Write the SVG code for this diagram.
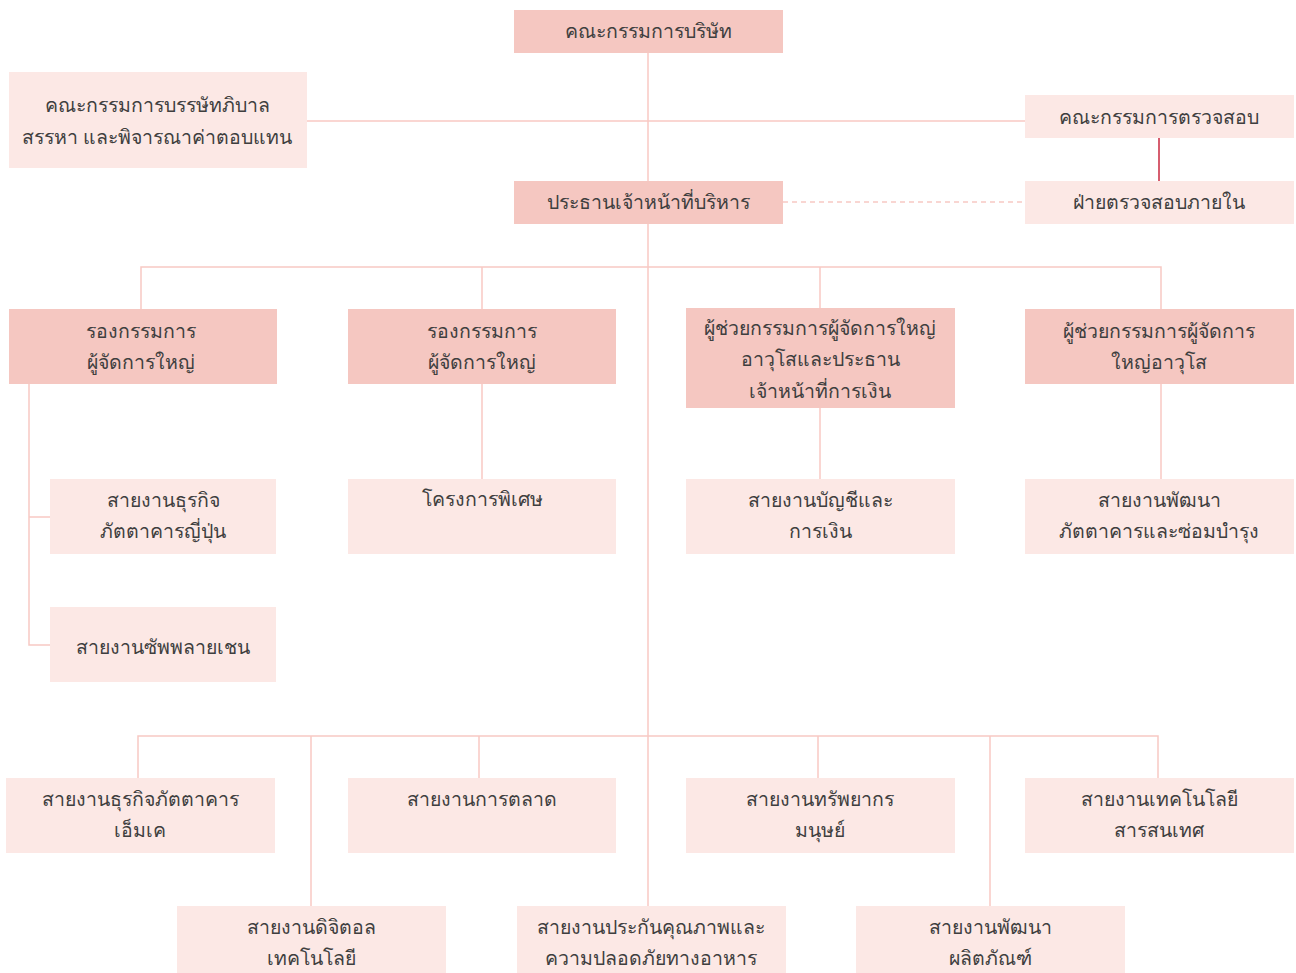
<svg xmlns="http://www.w3.org/2000/svg" width="1296" height="973" viewBox="0 0 1296 973">
<style>
.d{fill:#f5c7c1}
.l{fill:#fce8e5}
text{font-family:"Noto Sans","DejaVu Sans",sans-serif;font-size:19.5px;font-weight:500;fill:#3f3f3f;text-anchor:middle;dominant-baseline:central}
.c{stroke:#f8c9c3;stroke-width:1.5;fill:none}
</style>
<rect width="1296" height="973" fill="#fff"/>
<g id="connectors">
<line class="c" x1="648" y1="53" x2="648" y2="906"/>
<line class="c" x1="307" y1="121" x2="1025" y2="121"/>
<line x1="1159" y1="138" x2="1159" y2="181" stroke="#c9283f" stroke-width="1.5"/>
<line class="c" x1="783" y1="202" x2="1025" y2="202" stroke-dasharray="5,4"/>
<polyline class="c" points="141,309 141,267 1161,267 1161,309"/>
<line class="c" x1="482" y1="267" x2="482" y2="309"/>
<line class="c" x1="820" y1="267" x2="820" y2="308"/>
<polyline class="c" points="29,384 29,645 50,645"/>
<line class="c" x1="29" y1="517" x2="50" y2="517"/>
<line class="c" x1="482" y1="384" x2="482" y2="479"/>
<line class="c" x1="820" y1="408" x2="820" y2="479"/>
<line class="c" x1="1161" y1="384" x2="1161" y2="479"/>
<polyline class="c" points="138,778 138,736 1158,736 1158,778"/>
<line class="c" x1="311" y1="736" x2="311" y2="906"/>
<line class="c" x1="479" y1="736" x2="479" y2="778"/>
<line class="c" x1="818" y1="736" x2="818" y2="778"/>
<line class="c" x1="990" y1="736" x2="990" y2="906"/>
</g>
<g id="board"><rect class="d" x="514" y="10" width="269" height="43"/><text x="648" y="30">คณะกรรมการบริษัท</text></g>
<g id="governance"><rect class="l" x="9" y="72" width="298" height="96"/><text x="157" y="104">คณะกรรมการบรรษัทภิบาล</text><text x="157" y="136">สรรหา และพิจารณาค่าตอบแทน</text></g>
<g id="audit"><rect class="l" x="1025" y="95" width="269" height="43"/><text x="1159" y="116">คณะกรรมการตรวจสอบ</text></g>
<g id="ceo"><rect class="d" x="514" y="181" width="269" height="43"/><text x="648" y="201">ประธานเจ้าหน้าที่บริหาร</text></g>
<g id="internal-audit"><rect class="l" x="1025" y="181" width="269" height="43"/><text x="1159" y="201">ฝ่ายตรวจสอบภายใน</text></g>
<g id="vp1"><rect class="d" x="9" y="309" width="268" height="75"/><text x="141" y="330">รองกรรมการ</text><text x="141" y="361">ผู้จัดการใหญ่</text></g>
<g id="vp2"><rect class="d" x="348" y="309" width="268" height="75"/><text x="482" y="330">รองกรรมการ</text><text x="482" y="361">ผู้จัดการใหญ่</text></g>
<g id="cfo"><rect class="d" x="686" y="308" width="269" height="100"/><text x="820" y="327">ผู้ช่วยกรรมการผู้จัดการใหญ่</text><text x="820" y="358">อาวุโสและประธาน</text><text x="820" y="390">เจ้าหน้าที่การเงิน</text></g>
<g id="avp"><rect class="d" x="1025" y="309" width="269" height="75"/><text x="1159" y="330">ผู้ช่วยกรรมการผู้จัดการ</text><text x="1159" y="361">ใหญ่อาวุโส</text></g>
<g id="jp"><rect class="l" x="50" y="479" width="226" height="75"/><text x="163" y="499">สายงานธุรกิจ</text><text x="163" y="530">ภัตตาคารญี่ปุ่น</text></g>
<g id="supply"><rect class="l" x="50" y="607" width="226" height="75"/><text x="163" y="646">สายงานซัพพลายเชน</text></g>
<g id="special"><rect class="l" x="348" y="479" width="268" height="75"/><text x="482" y="498">โครงการพิเศษ</text></g>
<g id="acct"><rect class="l" x="686" y="479" width="269" height="75"/><text x="820" y="499">สายงานบัญชีและ</text><text x="820" y="530">การเงิน</text></g>
<g id="dev"><rect class="l" x="1025" y="479" width="269" height="75"/><text x="1159" y="499">สายงานพัฒนา</text><text x="1159" y="530">ภัตตาคารและซ่อมบำรุง</text></g>
<g id="mk"><rect class="l" x="6" y="778" width="269" height="75"/><text x="140" y="798">สายงานธุรกิจภัตตาคาร</text><text x="140" y="829">เอ็มเค</text></g>
<g id="marketing"><rect class="l" x="348" y="778" width="268" height="75"/><text x="482" y="798">สายงานการตลาด</text></g>
<g id="hr"><rect class="l" x="686" y="778" width="269" height="75"/><text x="820" y="798">สายงานทรัพยากร</text><text x="820" y="829">มนุษย์</text></g>
<g id="it"><rect class="l" x="1025" y="778" width="269" height="75"/><text x="1159" y="798">สายงานเทคโนโลยี</text><text x="1159" y="829">สารสนเทศ</text></g>
<g id="digital"><rect class="l" x="177" y="906" width="269" height="67"/><text x="311" y="926">สายงานดิจิตอล</text><text x="311" y="957">เทคโนโลยี</text></g>
<g id="qa"><rect class="l" x="517" y="906" width="269" height="67"/><text x="651" y="926">สายงานประกันคุณภาพและ</text><text x="651" y="957">ความปลอดภัยทางอาหาร</text></g>
<g id="product"><rect class="l" x="856" y="906" width="269" height="67"/><text x="990" y="926">สายงานพัฒนา</text><text x="990" y="957">ผลิตภัณฑ์</text></g>
</svg>
